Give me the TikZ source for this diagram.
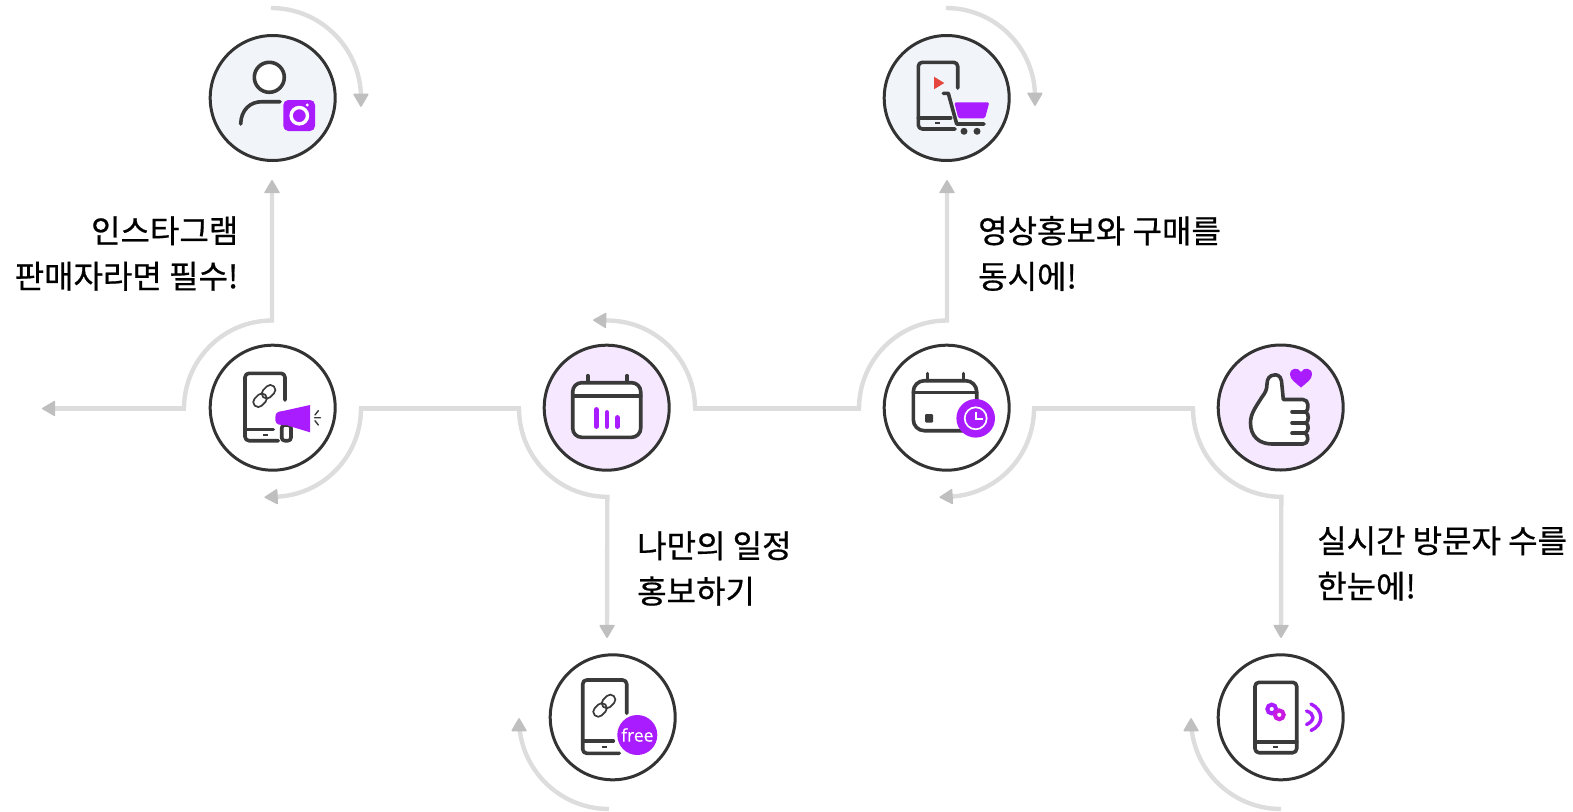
\documentclass[tikz,border=0pt]{standalone}
\usepackage{fontspec}
\setmainfont{Noto Sans CJK KR}[FakeBold=0.6]
\newfontfamily\latinfree{Open Sans}[FakeBold=0.4]
\usetikzlibrary{arrows.meta}
\definecolor{linegray}{HTML}{DDDDDD}
\definecolor{headgray}{HTML}{BFBFBF}
\definecolor{ink}{HTML}{3A3A3A}
\definecolor{ringink}{HTML}{333333}
\definecolor{purp}{HTML}{A91CFF}
\definecolor{softblue}{HTML}{F1F5FA}
\definecolor{softpurp}{HTML}{F5E8FF}
\definecolor{playred}{HTML}{E5473F}
\definecolor{magentap}{HTML}{C81AE0}
\tikzset{
  x=1pt,y=-1pt,
  disc/.style={circle,draw=ringink,line width=3pt,minimum size=125pt,inner sep=0pt,fill=white},
  flow/.style={draw=linegray,line width=4.4pt},
  tipped/.style={flow,-{Triangle[length=14pt,width=16pt,color=headgray,fill=headgray,round,line width=1.5pt]}},
  icon/.style={draw=ink,line width=3.6pt,line cap=round,line join=round},
  thinicon/.style={draw=ink,line width=1.7pt},
  say/.style={inner sep=0pt,font=\fontsize{32}{45.5}\selectfont,text=black},
}
\newcommand{\chainlink}[2]{%
  \begin{scope}[shift={(#1,#2)},rotate=45]
    \draw[thinicon,rounded corners=4.8pt] (-13.5,-5) rectangle (1.5,5);
    \draw[thinicon,rounded corners=4.8pt] (-1.5,-5) rectangle (13.5,5);
  \end{scope}}
\begin{document}
\begin{tikzpicture}
\useasboundingbox (0,0) rectangle (1573,811);

% named free ends of the connectors
\coordinate (leftEnd) at (42,408.5);
\coordinate (w1) at (184,408.5);
\coordinate (e1) at (361,408.5);
\coordinate (w2) at (519,408.5);
\coordinate (e2) at (695,408.5);
\coordinate (w3) at (859,408.5);
\coordinate (e3) at (1034,408.5);
\coordinate (w4) at (1193,408.5);
\coordinate (up1) at (272,180);
\coordinate (up3) at (947,180);
\coordinate (down2) at (607,638);
\coordinate (down4) at (1281,638);
\coordinate (b1top) at (271,8);
\coordinate (b3top) at (946,8);
\coordinate (b7bot) at (609,809);
\coordinate (b8bot) at (1281,809);

% connectors
\draw[flow,line cap=rect] (e1) -- (w2);
\draw[flow,line cap=rect] (e3) -- (w4);
\draw[flow,line cap=rect] (e2) -- (w3);
\draw[flow,line cap=rect] (w1) -- ++(-2,0);
\draw[tipped] (w1) -- (leftEnd);
\draw[tipped] (w1) arc[start angle=180,end angle=270,radius=88] -- (up1);
\draw[tipped] (e1) arc[start angle=0,end angle=88,radius=88.3] -- ++(-11.3,0.5);
\draw[tipped] (w2) arc[start angle=180,end angle=90,radius=88.3] -- (down2);
\draw[tipped] (e2) arc[start angle=0,end angle=-88,radius=88] -- ++(-17,-0.5);
\draw[tipped] (w3) arc[start angle=180,end angle=270,radius=88] -- (up3);
\draw[tipped] (e3) arc[start angle=0,end angle=88,radius=88.3] -- ++(-9.3,0.5);
\draw[tipped] (w4) arc[start angle=180,end angle=90,radius=88.3] -- (down4);
\draw[tipped] (b1top) arc[start angle=-90,end angle=-2,radius=90] -- ++(0,12);
\draw[tipped] (b3top) arc[start angle=-90,end angle=-2,radius=89] -- ++(0,12);
\draw[tipped] (b7bot) arc[start angle=90,end angle=178,radius=90] -- ++(0,-4);
\draw[tipped] (b8bot) arc[start angle=90,end angle=178,radius=90] -- ++(0,-4);

% discs
\node[disc,fill=softblue] (insta) at (272.7,98) {};
\node[disc,fill=softblue] (shop)  at (946.7,98) {};
\node[disc] (promo) at (272.7,407.7) {};
\node[disc,fill=softpurp] (cal) at (606.7,407.7) {};
\node[disc] (sched) at (946.7,407.7) {};
\node[disc,fill=softpurp] (like) at (1280.7,407.5) {};
\node[disc] (free) at (612.7,717.3) {};
\node[disc] (visit) at (1280.7,717.3) {};

% icon: person + camera
\draw[icon,fill=white] (269.3,77.3) circle[radius=15];
\draw[icon] (240.7,124) .. controls (241,110) and (250,101.7) .. (262,101.7) -- (280,101.7);
\fill[purp,rounded corners=5pt] (283.3,100) rectangle (315,131);
\draw[white,line width=3.4pt] (299.3,115.7) circle[radius=8.2];
\fill[white] (307.3,105) circle[radius=1.6];

% icon: phone + cart
\draw[icon,rounded corners=4pt] (957.7,88) -- (957.7,62.3) -- (918.3,62.3) -- (918.3,129) -- (955,129);
\draw[icon] (918.3,117.7) -- (950.7,117.7);
\draw[draw=ink,line width=2pt] (935.2,122.7) -- (940.2,122.7);
\fill[playred] (934,76.7) -- (944.3,83) -- (934,89.3) -- cycle;
\fill[purp,rounded corners=1.5pt] (954.3,102.3) -- (989.3,102.3) -- (985,118.3) -- (958.3,118.3) -- cycle;
\draw[icon] (943.3,93.3) -- (948.3,93.3) -- (956.7,124) -- (984,124);
\fill[ink] (964,131.3) circle[radius=3.5] (977,131.3) circle[radius=3.5];

% icon: phone + megaphone
\draw[icon,rounded corners=4pt] (285,400) -- (285,373.3) -- (245,373.3) -- (245,440.7) -- (278.3,440.7);
\draw[icon] (245,429.3) -- (273.3,429.3);
\draw[draw=ink,line width=2pt] (262.5,434.5) -- (267.5,434.5);
\chainlink{264.3}{396}
\draw[icon,rounded corners=3pt] (281.7,425) rectangle (291,440.7);
\fill[purp] (283,411) -- (310,405) -- (310,432.3) -- (286,425) -- (282,425)
  .. controls (276,425) and (275.3,422) .. (275.3,418) .. controls (275.3,413) and (277,411.5) .. (283,411) -- cycle;
\draw[draw=ink,line width=1.4pt,line cap=round] (315,415) -- (318.3,410.7) (314.5,417.7) -- (320.5,417.7) (315,420.7) -- (318.3,425);

% icon: calendar + bars
\draw[icon] (587.7,375.7) -- (587.7,382.7) (627,375.7) -- (627,382.7);
\draw[icon,fill=white,rounded corners=9pt] (572.7,382.7) rectangle (640.7,437.3);
\draw[icon] (572.7,396) -- (640.7,396);
\draw[purp,line width=4.8pt,line cap=round] (596.3,409.5) -- (596.3,426.5) (607,412.5) -- (607,426.5) (617.3,417.5) -- (617.3,426.5);

% icon: calendar + clock
\draw[icon] (927.5,373.5) -- (927.5,380.5) (963.5,373.5) -- (963.5,380.5);
\draw[icon,rounded corners=11pt] (913.3,380.7) rectangle (976.7,430.7);
\draw[icon] (913.3,392.3) -- (976.7,392.3);
\fill[ink,rounded corners=1pt] (925,414.2) rectangle (933,422.5);
\fill[purp] (975.7,418.3) circle[radius=19.3];
\draw[white,line width=1.7pt] (975.7,418.3) circle[radius=11];
\draw[white,line width=1.7pt] (975.7,411.5) -- (975.7,418.8) -- (982.5,418.8);

% icon: thumb + heart
\draw[icon,fill=white]
  (1283.3,399.5) -- (1281.5,381)
  .. controls (1280.5,375) and (1276,374.5) .. (1274.5,375)
  .. controls (1269.5,375) and (1267,379) .. (1267,384)
  .. controls (1267,390) and (1265,393) .. (1262,397)
  .. controls (1255,408) and (1250.5,414) .. (1250.5,423)
  .. controls (1250.5,436) and (1259,444) .. (1272,444)
  -- (1303,444)
  .. controls (1309,444) and (1309,435) .. (1305,433)
  .. controls (1309,431) and (1309,425) .. (1306,423)
  .. controls (1309,421) and (1309,414) .. (1306,412)
  .. controls (1309,409) and (1309,399.5) .. (1303,399.5) -- cycle;
\draw[icon] (1292,411.8) -- (1306,411.8) (1292,422.8) -- (1306,422.8) (1292,433.2) -- (1305,433.2);
\fill[purp] (1301,387.5)
  .. controls (1296,383) and (1290,379.5) .. (1290,374.5)
  .. controls (1290,367.5) and (1298.5,367) .. (1301,372)
  .. controls (1303.5,367) and (1312,367.5) .. (1312,374.5)
  .. controls (1312,379.5) and (1306,383) .. (1301,387.5) -- cycle;

% icon: phone + free
\draw[icon,rounded corners=4pt] (626.7,713.3) -- (626.7,680) -- (582.7,680) -- (582.7,753.3) -- (619.3,753.3);
\draw[icon] (582.7,741) -- (613.3,741);
\draw[draw=ink,line width=2pt] (601.8,746.8) -- (606.8,746.8);
\chainlink{604.3}{705.7}
\node[circle,fill=purp,minimum size=40pt,inner sep=0pt,text=white,font=\latinfree\fontsize{17.5}{17.5}\selectfont] (freebadge) at (637.3,735) {free};

% icon: phone + signal
\draw[icon,rounded corners=4pt] (1255,682.3) rectangle (1296.7,752.7);
\draw[icon] (1255,741.7) -- (1296.7,741.7);
\draw[draw=ink,line width=2pt] (1273.2,746.8) -- (1278.2,746.8);
\draw[purp,line width=4pt] (1271.7,709) circle[radius=4.4];
\draw[magentap,line width=4pt] (1279.3,714.8) circle[radius=4.4];
\draw[purp,line width=3.4pt,line cap=round] (1306.5,711) .. controls (1315,713.5) and (1315,721) .. (1306.5,724.5);
\draw[purp,line width=3.4pt,line cap=round] (1311,704) .. controls (1324,710) and (1324,725) .. (1311,730.5);

% captions
\node[say,align=right,anchor=east] (capInsta) at (238.5,253.5) {인스타그램\\판매자라면 필수!};
\node[say,align=left,anchor=west] (capShop) at (978,253.5) {영상홍보와 구매를\\동시에!};
\node[say,align=left,anchor=west] (capCal) at (637,568.5) {나만의 일정\\홍보하기};
\node[say,align=left,anchor=west] (capVisit) at (1317,563.5) {실시간 방문자 수를\\한눈에!};
\end{tikzpicture}
\end{document}
